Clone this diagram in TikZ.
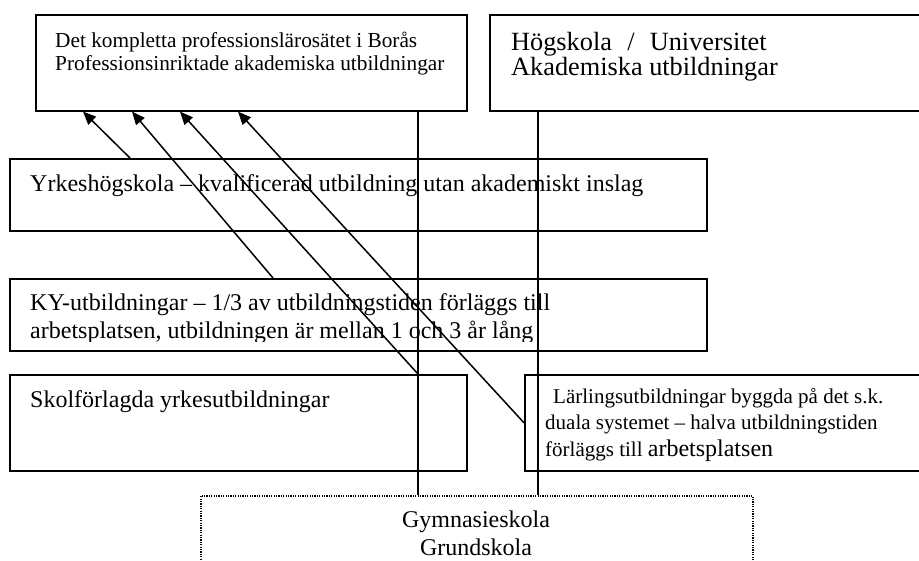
\documentclass[tikz,border=0pt]{standalone}
\usepackage{fontspec}
\setmainfont{Liberation Serif}
\usetikzlibrary{positioning, arrows.meta}

\tikzset{
  ruta/.style={draw, line width=1.6pt, rectangle, inner sep=0pt, anchor=north west},
  prickad/.style={draw, line width=1.6pt, dash pattern=on 1.2pt off 1.2pt, rectangle, inner sep=0pt, anchor=north west},
  txt/.style={inner sep=0pt, anchor=base west, align=left},
  pil/.style={line width=1.5pt, -{Triangle[length=13pt, width=11pt]}},
  linje/.style={line width=1.6pt},
}
\newcommand{\fs}[2]{\fontsize{#1pt}{#2pt}\selectfont}

\begin{document}
\begin{tikzpicture}[x=1pt, y=-1pt]
    \useasboundingbox (0,0) rectangle (919,560);

    % Rutor
    \node[ruta, minimum width=431pt, minimum height=96pt] (bor) at (35,14) {};
    \node[ruta, minimum width=445pt, minimum height=96pt] (hu) at (489,14) {};
    \node[ruta, minimum width=697pt, minimum height=72pt] (yh) at (9,158) {};
    \node[ruta, minimum width=697pt, minimum height=72pt] (ky) at (9,278) {};
    \node[ruta, minimum width=457pt, minimum height=96pt] (skol) at (9,374) {};
    \node[ruta, minimum width=410pt, minimum height=96pt] (lar) at (524,374) {};
    \node[prickad, minimum width=552pt, minimum height=110pt] (gym) at (200,495) {};

    % Texter (base = sista raden)
    \node[txt, font=\fs{21.3}{23}] (borT) at (55,70)
        {Det kompletta professionslärosätet i Borås\\Professionsinriktade akademiska utbildningar};
    \node[txt, font=\fs{26.3}{25}] (huT) at (511,75)
        {Högskola\hspace{0.58em}/\hspace{0.58em}Universitet\\Akademiska utbildningar};
    \node[txt, font=\fs{24}{28}] (yhT) at (30,191)
        {Yrkeshögskola -- kvalificerad utbildning utan akademiskt inslag};
    \begin{scope}
        \clip (ky.north west) rectangle ([yshift=10pt]ky.south east);
        \node[txt, font=\fs{24}{28}] (kyT) at (30,338)
            {KY-utbildningar -- 1/3 av utbildningstiden förläggs till\\arbetsplatsen, utbildningen är mellan 1 och 3 år lång};
    \end{scope}
    \node[txt, font=\fs{24}{28}] (skolT) at (30,407) {Skolförlagda yrkesutbildningar};
    \node[txt, font=\fs{21}{26.5}] (larT) at (545,456)
        {\hspace{8pt}Lärlingsutbildningar byggda på det s.k.\\duala systemet -- halva utbildningstiden\\förläggs till {\fs{24}{26.5}arbetsplatsen}};
    \node[txt, anchor=base, align=center, font=\fs{24}{28}] (gymT) at (476,555)
        {Gymnasieskola\\Grundskola};

    % Linjer
    \draw[linje] ([xshift=383pt]bor.south west) coordinate (v1) -- (v1 |- gym.north);
    \draw[linje] ([xshift=49pt]hu.south west) coordinate (v2) -- (v2 |- gym.north);

    % Pilar
    \draw[pil] ([xshift=121pt]yh.north west) -- ([xshift=48pt]bor.south west);
    \draw[pil] ([xshift=264pt]ky.north west) -- ([xshift=97pt]bor.south west);
    \draw[pil] ([xshift=409pt]skol.north west) -- ([xshift=145pt]bor.south west);
    \draw[pil] (lar.west) -- ([xshift=203pt]bor.south west);
\end{tikzpicture}
\end{document}
